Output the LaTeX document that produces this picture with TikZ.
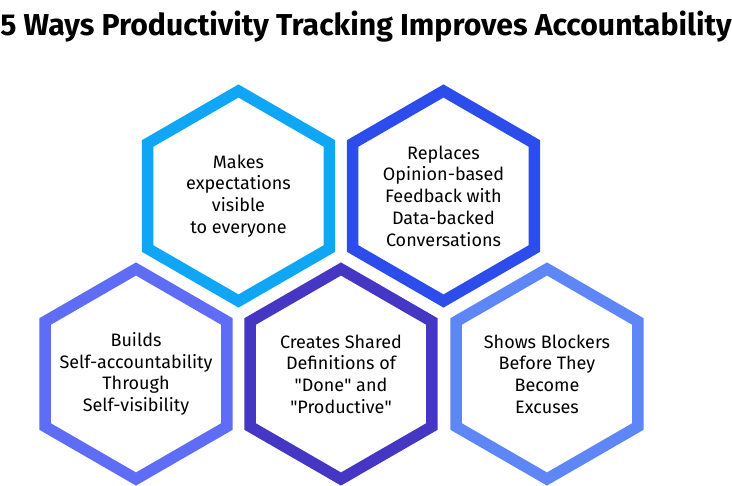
\documentclass[tikz,border=0pt]{standalone}
\usepackage{fontspec}
\setmainfont{Fira Sans}
\usepackage{xcolor}
\usepackage{tikz}
\usetikzlibrary{shapes.geometric}

\definecolor{skyhex}{RGB}{14,166,245}
\definecolor{royalhex}{RGB}{45,76,236}
\definecolor{perihex}{RGB}{94,108,246}
\definecolor{indigohex}{RGB}{70,54,196}
\definecolor{cornhex}{RGB}{94,134,246}

\tikzset{
	hexa/.style={regular polygon, regular polygon sides=6,
		shape border rotate=90, minimum size=210pt, inner sep=0pt,
		line width=11.4pt, fill=white},
	hextext/.style={align=center, font=\fontsize{18}{21.7}\selectfont,
		text=black}
}

\begin{document}
\begin{tikzpicture}[x=1pt,y=-1pt]
	\useasboundingbox (0,0) rectangle (732,486);
	\node[anchor=base, font=\fontsize{30.2}{34}\selectfont\bfseries] (title) at(366,36){5 Ways Productivity Tracking Improves Accountability};
	\node[hexa,draw=skyhex] (1) at(238.5,196){};
	\node[hexa,draw=royalhex] (2) at(443.5,196){};
	\node[hexa,draw=perihex] (3) at(136,374){};
	\node[hexa,draw=indigohex] (4) at(341,374){};
	\node[hexa,draw=cornhex] (5) at(547,374){};
	\node[hextext] (t1) at(1){Makes\\expectations\\visible\\to everyone};
	\node[hextext] (t2) at(2){Replaces\\Opinion-based\\Feedback with\\Data-backed\\Conversations};
	\node[hextext] (t3) at(3){Builds\\Self-accountability\\Through\\Self-visibility};
	\node[hextext] (t4) at(4){Creates Shared\\Definitions of\\\textquotedbl Done\textquotedbl{} and\\\textquotedbl Productive\textquotedbl};
	\node[hextext] (t5) at(5){Shows Blockers\\Before They\\Become\\Excuses};
\end{tikzpicture}
\end{document}
